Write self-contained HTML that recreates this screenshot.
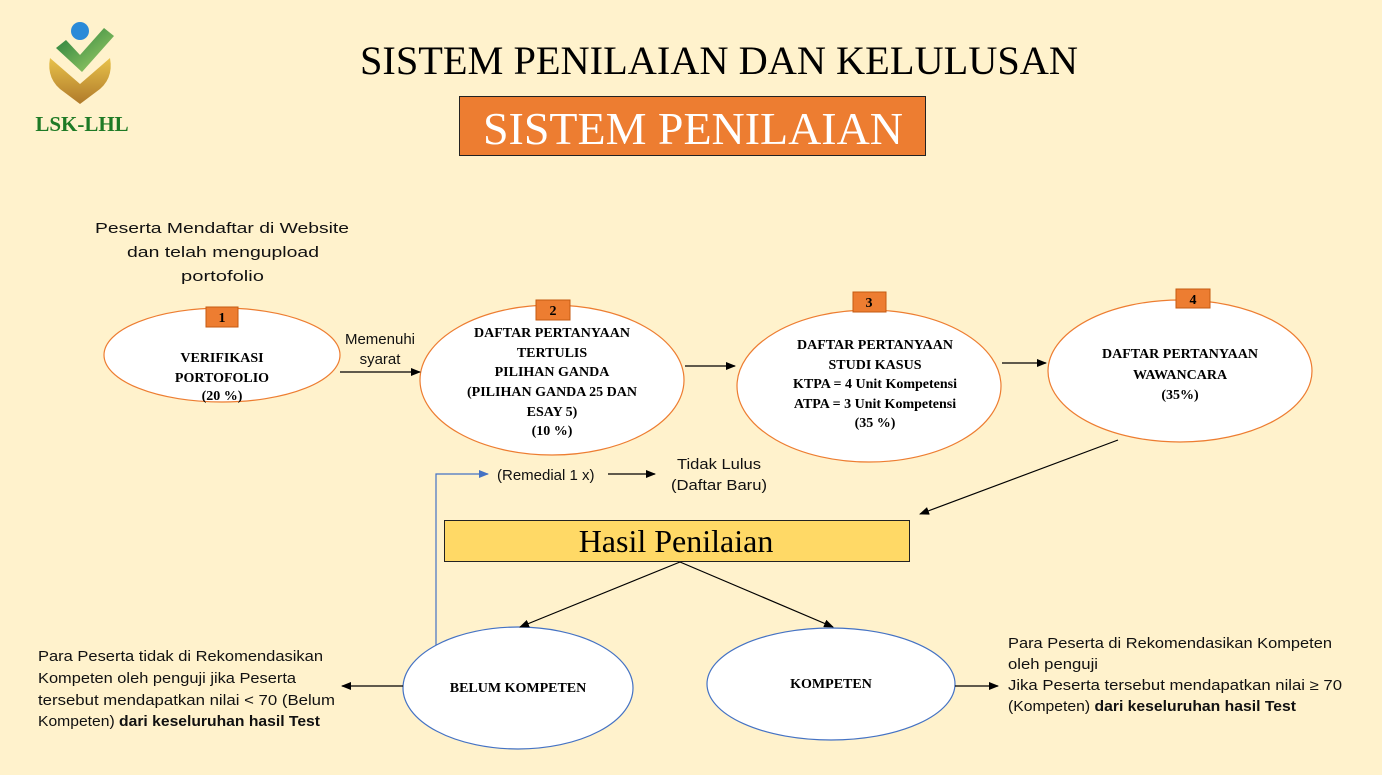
<!DOCTYPE html>
<html><head><meta charset="utf-8"><style>
html,body{margin:0;padding:0;background:#fff2cc;}
svg{display:block}
.s{font-family:"Liberation Serif",serif;font-weight:bold;font-size:14px;fill:#000;text-anchor:middle}
.n{font-family:"Liberation Sans",sans-serif;font-size:15px;fill:#111}
</style></head><body>
<svg width="1382" height="775" viewBox="0 0 1382 775" xmlns="http://www.w3.org/2000/svg">
<defs>
<marker id="a" markerWidth="10" markerHeight="8" refX="9" refY="4" orient="auto" markerUnits="userSpaceOnUse"><path d="M0,0 L10,4 L0,8 Z" fill="#000"/></marker>
<marker id="b" markerWidth="10" markerHeight="8" refX="9" refY="4" orient="auto" markerUnits="userSpaceOnUse"><path d="M0,0 L10,4 L0,8 Z" fill="#4472c4"/></marker>
<linearGradient id="g1" x1="0" y1="0" x2="1" y2="1"><stop offset="0" stop-color="#1f7a3a"/><stop offset="1" stop-color="#a8d46a"/></linearGradient>
<linearGradient id="g2" x1="0" y1="0" x2="0" y2="1"><stop offset="0" stop-color="#e8c24a"/><stop offset="1" stop-color="#b07a2a"/></linearGradient>
</defs>
<rect width="1382" height="775" fill="#fff2cc"/>
<!-- logo -->
<circle cx="80" cy="31" r="9" fill="#2a8ad8"/>
<path d="M56,48 L66,40 L80,55 L104,28 L114,36 L82,72 Z" fill="url(#g1)"/>
<path d="M50,58 L80,84 L110,58 Q114,80 96,92 L80,104 L64,92 Q46,80 50,58 Z" fill="url(#g2)"/>
<text x="82" y="131" font-family="Liberation Serif,serif" font-weight="bold" font-size="21" fill="#1e7a25" text-anchor="middle">LSK-LHL</text>
<!-- titles -->
<text x="360" y="74" font-family="Liberation Serif,serif" font-size="40" textLength="718" lengthAdjust="spacingAndGlyphs">SISTEM PENILAIAN DAN KELULUSAN</text>
<rect x="459.5" y="96.5" width="466" height="59" fill="#ed7d31" stroke="#222"/>
<text x="483" y="144" font-family="Liberation Serif,serif" font-size="46" fill="#fff" textLength="420" lengthAdjust="spacingAndGlyphs">SISTEM PENILAIAN</text>
<!-- top text -->
<text x="95" y="233" class="n" font-size="17" textLength="254" lengthAdjust="spacingAndGlyphs">Peserta Mendaftar di Website</text>
<text x="127" y="257" class="n" font-size="17" textLength="192" lengthAdjust="spacingAndGlyphs">dan telah mengupload</text>
<text x="181" y="281" class="n" font-size="17" textLength="83" lengthAdjust="spacingAndGlyphs">portofolio</text>
<!-- ellipses -->
<g fill="#fff" stroke="#ed7d31" stroke-width="1.2">
<ellipse cx="222" cy="355" rx="118" ry="47"/>
<ellipse cx="552" cy="380" rx="132" ry="75"/>
<ellipse cx="869" cy="386" rx="132" ry="76"/>
<ellipse cx="1180" cy="371" rx="132" ry="71"/>
</g>
<g fill="#fff" stroke="#4472c4" stroke-width="1.2">
<ellipse cx="518" cy="688" rx="115" ry="61"/>
<ellipse cx="831" cy="684" rx="124" ry="56"/>
</g>
<!-- number boxes -->
<g fill="#ed7d31" stroke="#c55a11">
<rect x="206" y="307" width="32" height="20"/>
<rect x="536" y="300" width="34" height="20"/>
<rect x="853" y="292" width="33" height="20"/>
<rect x="1176" y="289" width="34" height="19"/>
</g>
<g class="s">
<text x="222" y="322">1</text><text x="553" y="315">2</text><text x="869" y="307">3</text><text x="1193" y="304">4</text>
<text x="222" y="362">VERIFIKASI</text><text x="222" y="382">PORTOFOLIO</text><text x="222" y="400">(20 %)</text>
<text x="552" y="337">DAFTAR PERTANYAAN</text><text x="552" y="357">TERTULIS</text><text x="552" y="376">PILIHAN GANDA</text><text x="552" y="396">(PILIHAN GANDA 25 DAN</text><text x="552" y="416">ESAY 5)</text><text x="552" y="435">(10 %)</text>
<text x="875" y="349">DAFTAR PERTANYAAN</text><text x="875" y="369">STUDI KASUS</text><text x="875" y="388">KTPA = 4 Unit Kompetensi</text><text x="875" y="408">ATPA = 3 Unit Kompetensi</text><text x="875" y="427">(35 %)</text>
<text x="1180" y="358">DAFTAR PERTANYAAN</text><text x="1180" y="379">WAWANCARA</text><text x="1180" y="399">(35%)</text>
<text x="518" y="692">BELUM KOMPETEN</text>
<text x="831" y="688">KOMPETEN</text>
</g>
<!-- arrows -->
<g stroke="#000" stroke-width="1.2" fill="none">
<line x1="340" y1="372" x2="420" y2="372" marker-end="url(#a)"/>
<line x1="685" y1="366" x2="735" y2="366" marker-end="url(#a)"/>
<line x1="1002" y1="363" x2="1046" y2="363" marker-end="url(#a)"/>
<line x1="1118" y1="440" x2="920" y2="514" marker-end="url(#a)"/>
<line x1="608" y1="474" x2="655" y2="474" marker-end="url(#a)"/>
<line x1="680" y1="562" x2="520" y2="627" marker-end="url(#a)"/>
<line x1="680" y1="562" x2="833" y2="627" marker-end="url(#a)"/>
<line x1="403" y1="686" x2="342" y2="686" marker-end="url(#a)"/>
<line x1="955" y1="686" x2="998" y2="686" marker-end="url(#a)"/>
</g>
<polyline points="436,645 436,474 488,474" fill="none" stroke="#4472c4" stroke-width="1.2" marker-end="url(#b)"/>
<text x="380" y="344" class="n" text-anchor="middle">Memenuhi</text>
<text x="380" y="364" class="n" text-anchor="middle">syarat</text>
<text x="497" y="480" class="n">(Remedial 1 x)</text>
<text x="677" y="469" class="n" textLength="84" lengthAdjust="spacingAndGlyphs">Tidak Lulus</text>
<text x="671" y="490" class="n" textLength="96" lengthAdjust="spacingAndGlyphs">(Daftar Baru)</text>
<!-- hasil -->
<rect x="444.5" y="520.5" width="465" height="41" fill="#ffd966" stroke="#222"/>
<text x="676" y="552" font-family="Liberation Serif,serif" font-size="32" text-anchor="middle">Hasil Penilaian</text>
<!-- bottom texts -->
<g font-family="Liberation Sans,sans-serif" font-size="14.5" fill="#111">
<text x="38" y="661" textLength="285" lengthAdjust="spacingAndGlyphs">Para Peserta tidak di Rekomendasikan</text>
<text x="38" y="683" textLength="258" lengthAdjust="spacingAndGlyphs">Kompeten oleh penguji jika Peserta</text>
<text x="38" y="705" textLength="297" lengthAdjust="spacingAndGlyphs">tersebut mendapatkan nilai &lt; 70 (Belum</text>
<text x="38" y="726" textLength="282" lengthAdjust="spacingAndGlyphs">Kompeten) <tspan font-weight="bold">dari keseluruhan hasil Test</tspan></text>
<text x="1008" y="648" textLength="324" lengthAdjust="spacingAndGlyphs">Para Peserta di Rekomendasikan Kompeten</text>
<text x="1008" y="669" textLength="90" lengthAdjust="spacingAndGlyphs">oleh penguji</text>
<text x="1008" y="690" textLength="334" lengthAdjust="spacingAndGlyphs">Jika Peserta tersebut mendapatkan nilai ≥ 70</text>
<text x="1008" y="711" textLength="288" lengthAdjust="spacingAndGlyphs">(Kompeten) <tspan font-weight="bold">dari keseluruhan hasil Test</tspan></text>
</g>
</svg>
</body></html>
